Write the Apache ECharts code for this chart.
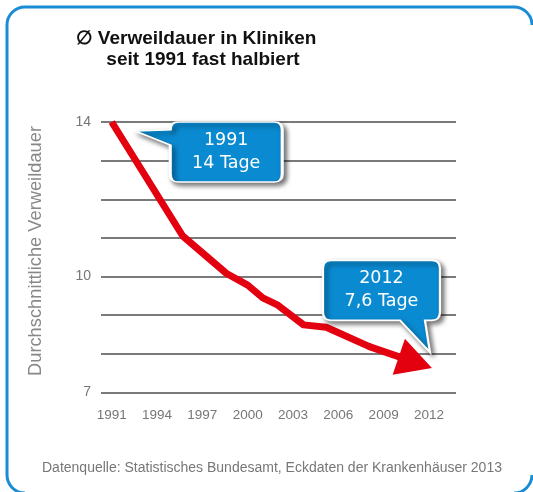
<!DOCTYPE html>
<html>
<head>
<meta charset="utf-8">
<script src="https://cdn.jsdelivr.net/npm/echarts@6.0.0/dist/echarts.min.js"></script>
<style>
  html, body { margin: 0; padding: 0; background: #fff; overflow: hidden; }
  #chart { width: 533px; height: 492px; }
</style>
</head>
<body>
<div id="chart"></div>
<script>
// line vertices (year, days)
var years = [1991, 1995.7, 1998.6, 2000, 2001, 2002, 2003.7, 2005.2, 2008.1];
var days = [14, 11.05, 10.08, 9.78, 9.45, 9.26, 8.75, 8.69, 8.18];
// the arrow head sits on the last bit of the line
var arrowEnd = [2011.1, 7.78];

var yearTicks = [1991, 1994, 1997, 2000, 2003, 2006, 2009, 2012];
var dayTicks = [7, 10, 14];

var calloutYears = [1991, 2012];
var calloutValues = [14, 7.6];
var calloutTexts = ['1991\n14 Tage', '2012\n7,6 Tage'];

var RED = '#e3000f';
var BLUE = '#0a8ad1';
var FRAME = '#1a8cd6';
var FONT = '"Liberation Sans", Arial, sans-serif';

var chart = echarts.init(document.getElementById('chart'));

var lineData = [];
for (var i = 0; i < years.length; i++) {
    lineData.push([years[i], days[i]]);
}
var last = lineData[lineData.length - 1];

// bubble shapes: box + tail
var bubbleLeft = 'path://M1 9 L36 8 Q36 0 44 0 L140 0 Q148 0 148 8 L148 52 Q148 60 140 60 L44 60 Q36 60 36 52 L36 23 Z';
var bubbleDown = 'path://M8 0 L109 0 Q117 0 117 8 L117 52 Q117 60 109 60 L102 60 L107 92 L77 60 L8 60 Q0 60 0 52 L0 8 Q0 0 8 0 Z';

// outer frame: right side runs off the picture, so only corners + left/top
var frameStyle = { fill: 'none', stroke: FRAME, lineWidth: 3 };
function corner(cx, cy, a0, a1) {
    return {
        type: 'arc', silent: true,
        shape: { cx: cx, cy: cy, r: 18, startAngle: a0, endAngle: a1, clockwise: true },
        style: frameStyle
    };
}
var frame = [
    { type: 'line', silent: true, shape: { x1: 25, y1: 7, x2: 514, y2: 7 }, style: frameStyle },
    { type: 'line', silent: true, shape: { x1: 7, y1: 25, x2: 7, y2: 475 }, style: frameStyle },
    corner(25, 25, Math.PI, Math.PI * 1.5),
    corner(514, 25, Math.PI * 1.5, Math.PI * 2),
    corner(514, 475, 0, Math.PI * 0.5),
    corner(25, 475, Math.PI * 0.5, Math.PI)
];

var option = {
    animation: false,
    grid: {
        left: 101,
        right: 77,
        top: 122,
        bottom: 99.5
    },
    xAxis: {
        type: 'value',
        min: 1990.29,
        max: 2013.79,
        axisLine: { show: false },
        axisTick: { show: false },
        splitLine: { show: false },
        axisLabel: {
            customValues: yearTicks,
            color: '#777',
            fontSize: 13.5,
            fontFamily: FONT,
            margin: 16,
            formatter: function (v) { return String(v); }
        }
    },
    yAxis: {
        type: 'value',
        min: 7,
        max: 14,
        interval: 1,
        axisLine: { show: false },
        axisTick: { show: false },
        axisLabel: {
            color: '#777',
            fontSize: 14,
            fontFamily: FONT,
            margin: 10,
            formatter: function (v) {
                return dayTicks.indexOf(v) >= 0 ? String(v) : '';
            }
        },
        splitLine: {
            lineStyle: { color: '#7a7a7a', width: 2 }
        }
    },
    graphic: frame.concat([
        {
            type: 'text',
            x: 196, y: 39,
            style: {
                text: '\u2205 Verweildauer in Kliniken',
                fill: '#111', font: 'bold 19px ' + FONT,
                align: 'center', verticalAlign: 'middle'
            }
        },
        {
            type: 'text',
            x: 203, y: 60,
            style: {
                text: 'seit 1991 fast halbiert',
                fill: '#111', font: 'bold 19px ' + FONT,
                align: 'center', verticalAlign: 'middle'
            }
        },
        {
            // y axis title
            type: 'text',
            x: 36, y: 251,
            rotation: Math.PI / 2,
            style: {
                text: 'Durchschnittliche Verweildauer',
                fill: '#888', font: '18.3px ' + FONT,
                align: 'center', verticalAlign: 'middle'
            }
        },
        {
            type: 'text',
            x: 42, y: 468,
            style: {
                text: 'Datenquelle: Statistisches Bundesamt, Eckdaten der Krankenhäuser 2013',
                fill: '#777', font: '14px ' + FONT,
                align: 'left', verticalAlign: 'middle'
            }
        }
    ]),
    series: [
        {
            type: 'line',
            data: lineData,
            symbol: 'none',
            silent: true,
            lineStyle: { color: RED, width: 7, join: 'round' },
            markLine: {
                silent: true,
                animation: false,
                symbol: ['none', 'triangle'],
                symbolSize: [38, 35],
                label: { show: false },
                lineStyle: { color: RED, width: 7, type: 'solid', cap: 'round' },
                itemStyle: { color: RED },
                data: [[{ coord: last }, { coord: arrowEnd }]]
            },
            markPoint: {
                silent: true,
                animation: false,
                itemStyle: {
                    color: BLUE,
                    borderColor: '#fff',
                    borderWidth: 2,
                    shadowBlur: 5,
                    shadowColor: 'rgba(0,0,0,0.55)',
                    shadowOffsetX: 3,
                    shadowOffsetY: 3
                },
                label: {
                    show: true,
                    position: 'inside',
                    color: '#fff',
                    fontSize: 17.5,
                    lineHeight: 23,
                    fontFamily: '"DejaVu Sans", sans-serif',
                    align: 'center'
                },
                data: [
                    {
                        coord: [calloutYears[0], calloutValues[0]],
                        value: calloutTexts[0],
                        symbol: bubbleLeft,
                        symbolSize: [147, 60],
                        symbolOffset: [97, 30],
                        label: { offset: [17.5, 0], formatter: calloutTexts[0] }
                    },
                    {
                        coord: [calloutYears[1], calloutValues[1]],
                        value: calloutTexts[1],
                        symbol: bubbleDown,
                        symbolSize: [117, 92],
                        symbolOffset: [-47.5, -63],
                        label: { offset: [0, -16], formatter: calloutTexts[1] }
                    }
                ]
            }
        }
    ]
};

chart.setOption(option);
</script>
</body>
</html>
